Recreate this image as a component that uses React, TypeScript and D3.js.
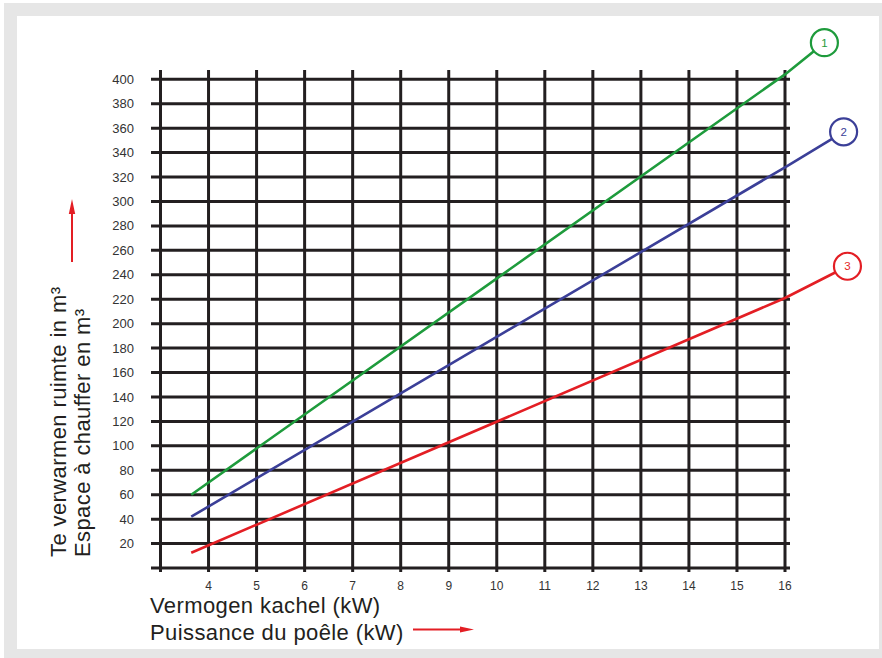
import React from "react";
import * as d3 from "d3";

// kW values for vertical grid lines, m³ values for horizontal ones
const kwGrid = [3, 4, 5, 6, 7, 8, 9, 10, 11, 12, 13, 14, 15, 16];
const kwLabels = [4, 5, 6, 7, 8, 9, 10, 11, 12, 13, 14, 15, 16];
const m3Grid = d3.range(0, 401, 20);
const m3Labels = m3Grid.filter((v) => v > 0);

// each curve: start, value at 16 kW, end at the numbered badge
const curve1: [number, number][] = [[3.64, 60], [16, 404], [16.82, 430]];
const curve2: [number, number][] = [[3.64, 42], [16, 328], [17.22, 357]];
const curve3: [number, number][] = [[3.64, 12.5], [16, 221], [17.3, 247]];

const curves = [
  { id: "1", points: curve1, color: "#1e9b3c" },
  { id: "2", points: curve2, color: "#3b3f98" },
  { id: "3", points: curve3, color: "#e31e24" },
];

const W = 882;
const H = 658;
const font = "'Liberation Sans', Arial, Helvetica, sans-serif";
const ink = "#231f20";
const arrowRed = "#e31e24";

export default function App() {
  const x = d3.scaleLinear().domain([3, 16]).range([160.5, 785]);
  const y = d3.scaleLinear().domain([0, 400]).range([568, 79.3]);

  const line = d3
    .line<[number, number]>()
    .x((d) => x(d[0]))
    .y((d) => y(d[1]));

  const gridLeft = 151;
  const gridRight = 790;
  const gridTop = 70;
  const gridBottom = 572;

  return (
    <svg
      width={W}
      height={H}
      style={{ position: "fixed", left: 0, top: 0, background: "#fff" }}
      fontFamily={font}
    >
      {/* frame */}
      <rect x={4} y={3} width={W - 4} height={H - 3} fill="#e6e6e6" />
      <rect x={17} y={16} width={879 - 17} height={649 - 16} fill="#ffffff" />

      {/* grid */}
      <g stroke={ink} strokeWidth={3}>
        {m3Grid.map((v) => (
          <line key={`h${v}`} x1={gridLeft} x2={gridRight} y1={y(v)} y2={y(v)} />
        ))}
        {kwGrid.map((k) => (
          <line key={`v${k}`} x1={x(k)} x2={x(k)} y1={gridTop} y2={gridBottom} />
        ))}
      </g>

      {/* tick labels */}
      <g fill="#333" fontSize={13} textAnchor="end">
        {m3Labels.map((v) => (
          <text key={v} x={134} y={y(v)} dy="0.35em">
            {v}
          </text>
        ))}
      </g>
      <g fill="#333" fontSize={12} textAnchor="middle">
        {kwLabels.map((k) => (
          <text key={k} x={x(k)} y={586} dy="0.35em">
            {k}
          </text>
        ))}
      </g>

      {/* curves with numbered badges */}
      {curves.map((c) => {
        const end = c.points[c.points.length - 1];
        return (
          <g key={c.id}>
            <path d={line(c.points) ?? ""} fill="none" stroke={c.color} strokeWidth={2.6} />
            <circle cx={x(end[0])} cy={y(end[1])} r={13.5} fill="#fff" stroke={c.color} strokeWidth={2.2} />
            <text
              x={x(end[0])}
              y={y(end[1])}
              dy="0.35em"
              textAnchor="middle"
              fontSize={11.5}
              fill={c.color}
            >
              {c.id}
            </text>
          </g>
        );
      })}

      {/* axis titles */}
      <g fill={ink} fontSize={22} letterSpacing={0.4}>
        <text x={150} y={613}>Vermogen kachel (kW)</text>
        <text x={150} y={640}>Puissance du poêle (kW)</text>
        <text transform="translate(66,557) rotate(-90)">Te verwarmen ruimte in m³</text>
        <text transform="translate(90,557) rotate(-90)">Espace à chauffer en m³</text>
      </g>

      {/* red direction arrows */}
      <line x1={413} x2={462} y1={629.5} y2={629.5} stroke={arrowRed} strokeWidth={2} />
      <path d="M474,629.5 L460,626.5 L460,632.5 Z" fill={arrowRed} />
      <line x1={72} x2={72} y1={262} y2={212} stroke={arrowRed} strokeWidth={2} />
      <path d="M72,199 L68.8,214 L75.2,214 Z" fill={arrowRed} />
    </svg>
  );
}
